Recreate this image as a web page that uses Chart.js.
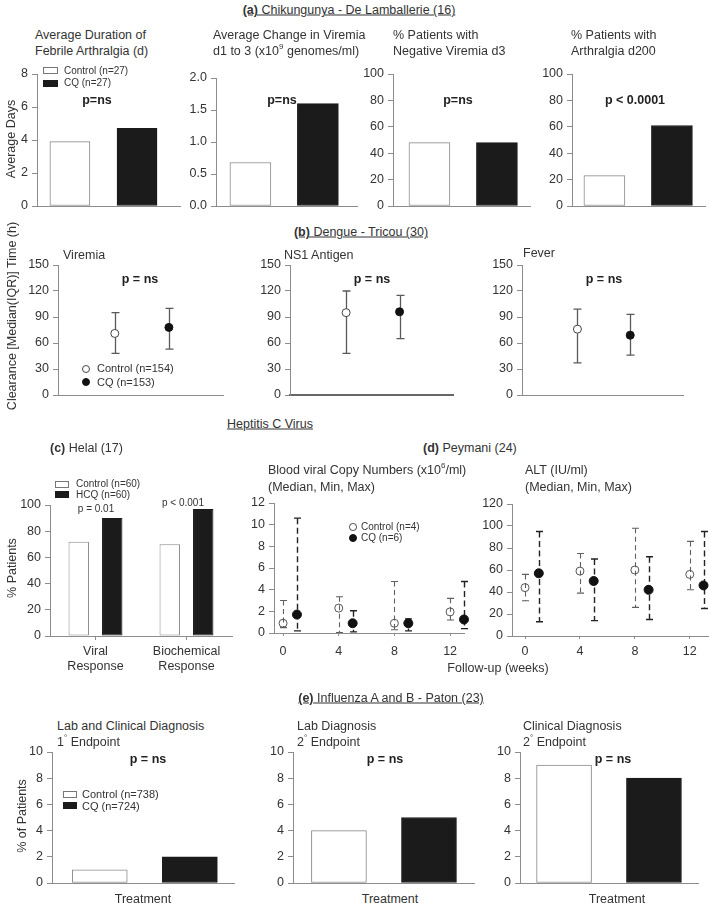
<!DOCTYPE html>
<html><head><meta charset="utf-8">
<script src="https://cdn.jsdelivr.net/npm/chart.js@4.4.1/dist/chart.umd.min.js"></script>
<style>
html,body{margin:0;padding:0;background:#fff;}
body{width:709px;height:911px;position:relative;overflow:hidden;font-family:"Liberation Sans",Arial,sans-serif;color:#333;}
canvas{position:absolute;}
.t{position:absolute;white-space:nowrap;font-size:12.5px;line-height:15px;}
.u{text-decoration:underline;}
.b{font-weight:bold;color:#222;}
.s10{font-size:10px;line-height:12px;}
.s11{font-size:11px;line-height:13px;}
sup{font-size:8px;vertical-align:6px;line-height:0;}
.box{position:absolute;box-sizing:border-box;}
.dot{position:absolute;box-sizing:border-box;border-radius:50%;}
</style></head><body>
<script>
// ---------------- DATA ----------------
// (a) Chikungunya - De Lamballerie
const chikGroups = ['Control (n=27)', 'CQ (n=27)'];
const chikFebrileDays = [3.9, 4.7];
const chikViremiaChange = [0.68, 1.6];
const chikNegViremiaPct = [48, 48];
const chikArthralgiaPct = [23, 61];
const chikDaysTicks = [0, 2, 4, 6, 8];
const chikChangeTicks = [0, 0.5, 1, 1.5, 2];
const pctTicks = [0, 20, 40, 60, 80, 100];

// (b) Dengue - Tricou : clearance time (h), median with IQR
const dengueGroups = ['Control (n=154)', 'CQ (n=153)'];
const viremiaMedian = [71, 78];
const viremiaQ1 = [48, 53];
const viremiaQ3 = [95, 100];
const ns1Median = [95, 96];
const ns1Q1 = [48, 65];
const ns1Q3 = [120, 115];
const feverMedian = [76, 69];
const feverQ1 = [37, 46];
const feverQ3 = [99, 93];
const clearanceTicks = [0, 30, 60, 90, 120, 150];

// (c) Helal - HCV
const helalCategories = [['Viral', 'Response'], ['Biochemical', 'Response']];
const helalControlPct = [72, 70];
const helalHCQPct = [90, 97];

// (d) Peymani - HCV, median/min/max at follow-up weeks
const followWeeks = [0, 4, 8, 12];
const copyCtrlMedian = [0.9, 2.3, 0.9, 1.95];
const copyCtrlMin = [0.5, 0.05, 0.3, 1.2];
const copyCtrlMax = [3.0, 3.35, 4.75, 3.2];
const copyCQMedian = [1.7, 0.9, 0.9, 1.25];
const copyCQMin = [0.2, 0.1, 0.2, 0.4];
const copyCQMax = [10.6, 2.05, 1.3, 4.75];
const altCtrlMedian = [44, 59, 60, 56];
const altCtrlMin = [32, 39, 26, 42];
const altCtrlMax = [56, 75, 98, 86];
const altCQMedian = [57, 50, 42, 46];
const altCQMin = [13, 14, 15, 25];
const altCQMax = [95, 70, 72, 95];
const copyTicks = [0, 2, 4, 6, 8, 10, 12];
const altTicks = [0, 20, 40, 60, 80, 100, 120];

// (e) Influenza - Paton (% of patients)
const fluGroups = ['Control (n=738)', 'CQ (n=724)'];
const fluLabClinical = [1, 2];
const fluLab = [4, 5];
const fluClinical = [9, 8];
const fluTicks = [0, 2, 4, 6, 8, 10];

// ---------------- STYLE / HELPERS ----------------
const WHITE = '#ffffff', BLACK = '#1b1b1b', EDGE = '#8a8a8a', AX = '#8c8c8c';
const TICKFONT = 12.5;
Chart.defaults.font.family = '"Liberation Sans", Arial, sans-serif';
Chart.defaults.font.size = 12;
Chart.defaults.color = '#333';
Chart.defaults.animation = false;
Chart.defaults.plugins.legend.display = false;
Chart.defaults.plugins.tooltip.enabled = false;

function mkCanvas(area, pad) {
  const c = document.createElement('canvas');
  const w = area.r - area.l + pad.l + pad.r, h = area.b - area.t + pad.t + pad.b;
  c.width = w; c.height = h;
  c.style.width = w + 'px'; c.style.height = h + 'px';
  c.style.left = (area.l - pad.l) + 'px'; c.style.top = (area.t - pad.t) + 'px';
  document.body.appendChild(c);
  return c;
}
function fitter(pad, horiz) {
  return s => {
    if (horiz) { s.height = pad.b; s.paddingLeft = 0; s.paddingRight = 0; }
    else { s.width = pad.l; s.paddingTop = 0; s.paddingBottom = 0; }
  };
}
function yScale(pad, ticks, fmt) {
  return {
    type: 'linear', min: ticks[0], max: ticks[ticks.length - 1],
    afterBuildTicks: s => { s.ticks = ticks.map(v => ({ value: v })); },
    ticks: { padding: 4, color: '#333', font: { size: TICKFONT }, callback: fmt || (v => String(v)) },
    grid: { display: true, drawOnChartArea: false, drawTicks: true, tickLength: 5, tickColor: AX, tickWidth: 1 },
    border: { display: true, color: AX, width: 1 },
    afterFit: fitter(pad, false)
  };
}
function xHidden(pad, xr, border) {
  return {
    type: 'linear', min: xr[0], max: xr[1], offset: false,
    ticks: { display: false },
    grid: { display: true, drawOnChartArea: false, drawTicks: false },
    border: Object.assign({ display: true, color: AX, width: 1 }, border || {}),
    afterFit: fitter(pad, true)
  };
}
function baseOpts(pad) {
  return { responsive: false, devicePixelRatio: 1, animation: false,
    layout: { padding: { top: pad.t, right: pad.r, left: 0, bottom: 0 } } };
}

function barPair(area, values, xr, thick, yTicks, fmt) {
  const pad = { l: 42, t: 8, r: 8, b: 4 };
  const c = mkCanvas(area, pad);
  const o = baseOpts(pad);
  o.scales = { x: xHidden(pad, xr), y: yScale(pad, yTicks, fmt) };
  new Chart(c, {
    type: 'bar',
    data: { datasets: [{
      data: values.map((v, i) => ({ x: i, y: v })),
      backgroundColor: [WHITE, BLACK], borderColor: [EDGE, BLACK],
      borderWidth: 1, borderSkipped: false, barThickness: thick
    }] },
    options: o
  });
}

const errorBars = {
  id: 'errorBars',
  beforeDatasetsDraw(chart) {
    const ctx = chart.ctx, xs = chart.scales.x, ys = chart.scales.y;
    chart.data.datasets.forEach(ds => {
      if (!ds.errLo) return;
      ctx.save();
      ctx.strokeStyle = ds.errColor; ctx.lineWidth = ds.errWidth || 1;
      ds.data.forEach((p, i) => {
        const px = Math.round(xs.getPixelForValue(p.x)) + 0.5;
        const y1 = ys.getPixelForValue(ds.errLo[i]), y2 = ys.getPixelForValue(ds.errHi[i]);
        ctx.setLineDash(ds.errDash || []);
        ctx.beginPath(); ctx.moveTo(px, y2); ctx.lineTo(px, y1); ctx.stroke();
        ctx.setLineDash([]);
        const cap = ds.errCap;
        ctx.beginPath();
        ctx.moveTo(px - cap, y2); ctx.lineTo(px + cap, y2);
        ctx.moveTo(px - cap, y1); ctx.lineTo(px + cap, y1);
        ctx.stroke();
      });
      ctx.restore();
    });
  }
};

function dengueChart(area, med, lo, hi, border) {
  const pad = { l: 42, t: 8, r: 8, b: 4 };
  const c = mkCanvas(area, pad);
  const o = baseOpts(pad);
  o.scales = { x: xHidden(pad, [-1.05, 2.0], border), y: yScale(pad, clearanceTicks) };
  const ds = dengueGroups.map((g, i) => ({
    label: g,
    data: [{ x: i, y: med[i] }],
    errLo: [lo[i]], errHi: [hi[i]], errColor: '#5a5a5a', errWidth: 1.3, errCap: 4,
    pointRadius: 4, pointBorderWidth: 1,
    pointBackgroundColor: i === 0 ? '#fff' : '#111',
    pointBorderColor: i === 0 ? '#444' : '#111',
    showLine: false, clip: false
  }));
  new Chart(c, { type: 'scatter', data: { datasets: ds }, options: o, plugins: [errorBars] });
}

function peymaniChart(area, xr, yTicks, ctrl, cq, tickPad) {
  const pad = { l: 42, t: 8, r: 8, b: 26 };
  const c = mkCanvas(area, pad);
  const o = baseOpts(pad);
  o.scales = {
    x: {
      type: 'linear', min: xr[0], max: xr[1], offset: false,
      afterBuildTicks: s => { s.ticks = followWeeks.map(v => ({ value: v })); },
      ticks: { padding: tickPad, color: '#333', font: { size: TICKFONT } },
      grid: { display: true, drawOnChartArea: false, drawTicks: true, tickLength: 3, tickColor: AX },
      border: { display: true, color: AX, width: 1 },
      afterFit: fitter(pad, true)
    },
    y: yScale(pad, yTicks)
  };
  const dodge = 1; // CQ symbols drawn one week to the right of control
  const ds = [
    { data: followWeeks.map((w, i) => ({ x: w, y: ctrl[0][i] })), errLo: ctrl[1], errHi: ctrl[2],
      errColor: '#606060', errWidth: 1.1, errDash: [5, 3.5], errCap: 3.5,
      pointRadius: 4, pointBorderWidth: 1, pointBackgroundColor: 'rgba(255,255,255,0)', pointBorderColor: '#555',
      showLine: false, clip: false },
    { data: followWeeks.map((w, i) => ({ x: w + dodge, y: cq[0][i] })), errLo: cq[1], errHi: cq[2],
      errColor: '#222', errWidth: 1.4, errDash: [6, 3.5], errCap: 3.5,
      pointRadius: 4.5, pointBorderWidth: 1, pointBackgroundColor: '#111', pointBorderColor: '#111',
      showLine: false, clip: false }
  ];
  new Chart(c, { type: 'scatter', data: { datasets: ds }, options: o, plugins: [errorBars] });
}

// ---------------- CHARTS ----------------
// (a)
barPair({ l: 37, t: 74, r: 180, b: 206 }, chikFebrileDays, [-0.49, 1.64], 40, chikDaysTicks);
barPair({ l: 216, t: 78, r: 357, b: 206 }, chikViremiaChange, [-0.51, 1.58], 41, chikChangeTicks, v => Number(v).toFixed(1));
barPair({ l: 393, t: 74, r: 530, b: 206 }, chikNegViremiaPct, [-0.54, 1.49], 41, pctTicks);
barPair({ l: 572, t: 74, r: 705, b: 206 }, chikArthralgiaPct, [-0.48, 1.49], 41, pctTicks);

// (b)
dengueChart({ l: 58, t: 265, r: 223, b: 396 }, viremiaMedian, viremiaQ1, viremiaQ3);
dengueChart({ l: 290, t: 265, r: 453, b: 396 }, ns1Median, ns1Q1, ns1Q3, { color: '#666', width: 2 });
dengueChart({ l: 522, t: 265, r: 683, b: 396 }, feverMedian, feverQ1, feverQ3);

// (c)
(function () {
  const area = { l: 50, t: 505, r: 232, b: 636 };
  const pad = { l: 44, t: 8, r: 8, b: 44 };
  const c = mkCanvas(area, pad);
  const o = baseOpts(pad);
  o.scales = {
    x: {
      type: 'category', offset: true,
      ticks: { padding: 4, color: '#333', font: { size: 12.5, lineHeight: 1.2 } },
      grid: { display: true, offset: false, drawOnChartArea: false, drawTicks: true, tickLength: 4, tickColor: AX },
      border: { display: true, color: AX, width: 1 },
      afterFit: fitter(pad, true)
    },
    y: yScale(pad, pctTicks)
  };
  new Chart(c, {
    type: 'bar',
    data: { labels: helalCategories, datasets: [
      { label: 'Control (n=60)', data: helalControlPct, backgroundColor: WHITE, borderColor: EDGE, borderWidth: 1, borderSkipped: false, categoryPercentage: 0.736, barPercentage: 0.61 },
      { label: 'HCQ (n=60)', data: helalHCQPct, backgroundColor: BLACK, borderColor: BLACK, borderWidth: 1, borderSkipped: false, categoryPercentage: 0.736, barPercentage: 0.61 }
    ] },
    options: o
  });
})();

// (d)
peymaniChart({ l: 274, t: 503, r: 464, b: 633 }, [-0.65, 13.0], copyTicks,
  [copyCtrlMedian, copyCtrlMin, copyCtrlMax], [copyCQMedian, copyCQMin, copyCQMax], 8);
peymaniChart({ l: 512, t: 504, r: 709, b: 636 }, [-0.95, 13.4], altTicks,
  [altCtrlMedian, altCtrlMin, altCtrlMax], [altCQMedian, altCQMin, altCQMax], 5);

// (e)
barPair({ l: 52, t: 752, r: 234, b: 883 }, fluLabClinical, [-0.53, 1.49], 55, fluTicks);
barPair({ l: 293, t: 752, r: 474, b: 883 }, fluLab, [-0.51, 1.5], 55, fluTicks);
barPair({ l: 520, t: 752, r: 698, b: 883 }, fluClinical, [-0.49, 1.49], 55, fluTicks);

// ---------------- TEXT ----------------
function T(x, cy, html, cls, align) {
  const d = document.createElement('div');
  d.className = 't ' + (cls || '');
  d.innerHTML = html;
  d.style.left = x + 'px'; d.style.top = cy + 'px';
  d.style.transform = 'translate(' + (align === 'c' ? '-50%' : '0') + ',-50%)';
  document.body.appendChild(d);
}
function R(cx, cy, html, cls) {
  const d = document.createElement('div');
  d.className = 't ' + (cls || '');
  d.innerHTML = html;
  d.style.left = cx + 'px'; d.style.top = cy + 'px';
  d.style.transform = 'translate(-50%,-50%) rotate(-90deg)';
  document.body.appendChild(d);
}
function box(x, y, w, h, fill, stroke) {
  const d = document.createElement('div');
  d.className = 'box';
  Object.assign(d.style, { left: x + 'px', top: y + 'px', width: w + 'px', height: h + 'px', background: fill, border: '1px solid ' + stroke });
  document.body.appendChild(d);
}
function dot(cx, cy, r, fill, stroke) {
  const d = document.createElement('div');
  d.className = 'dot';
  Object.assign(d.style, { left: (cx - r) + 'px', top: (cy - r) + 'px', width: 2 * r + 'px', height: 2 * r + 'px', background: fill, border: '1px solid ' + stroke });
  document.body.appendChild(d);
}

// (a)
T(349, 10, '<b>(a)</b> Chikungunya - De Lamballerie (16)', 'u', 'c');
T(35, 35, 'Average Duration of'); T(35, 51, 'Febrile Arthralgia (d)');
T(213, 35, 'Average Change in Viremia'); T(213, 51, 'd1 to 3 (x10<sup>9</sup> genomes/ml)');
T(393, 35, '% Patients with'); T(393, 51, 'Negative Viremia d3');
T(571, 35, '% Patients with'); T(571, 51, 'Arthralgia d200');
R(11, 139, 'Average Days');
box(43, 67, 15, 7, WHITE, '#777'); T(64, 71, chikGroups[0], 's10');
box(43, 80, 15, 7, BLACK, BLACK); T(64, 83, chikGroups[1], 's10');
T(97, 100, 'p=ns', 'b', 'c'); T(282, 100, 'p=ns', 'b', 'c');
T(458, 100, 'p=ns', 'b', 'c'); T(635, 100, 'p &lt; 0.0001', 'b', 'c');

// (b)
T(361, 232, '<b>(b)</b> Dengue - Tricou (30)', 'u', 'c');
T(63, 255, 'Viremia'); T(284, 255, 'NS1 Antigen'); T(523, 253, 'Fever');
T(140, 279, 'p = ns', 'b', 'c'); T(372, 279, 'p = ns', 'b', 'c'); T(604, 279, 'p = ns', 'b', 'c');
R(12, 316, 'Clearance [Median(IQR)] Time (h)');
dot(86, 369, 4, '#fff', '#444'); T(97, 368, dengueGroups[0], 's11');
dot(86, 382, 4, '#111', '#111'); T(97, 382, dengueGroups[1], 's11');

// HCV
T(270, 424, 'Heptitis C Virus', 'u', 'c');
T(50, 448, '<b>(c)</b> Helal (17)', '', 'l');
box(55, 481, 14, 7, WHITE, '#777'); T(76, 484, 'Control (n=60)', 's10');
box(55, 491, 14, 7, BLACK, BLACK); T(76, 495, 'HCQ (n=60)', 's10');
T(96, 509, 'p = 0.01', 's10', 'c'); T(183, 503, 'p &lt; 0.001', 's10', 'c');
R(12, 568, '% Patients');

T(423, 448, '<b>(d)</b> Peymani (24)', '', 'l');
T(268, 470, 'Blood viral Copy Numbers (x10<sup>6</sup>/ml)'); T(268, 487, '(Median, Min, Max)');
T(525, 470, 'ALT (IU/ml)'); T(525, 487, '(Median, Min, Max)');
dot(353, 527, 3.8, '#fff', '#444'); T(361, 527, 'Control (n=4)', 's10');
dot(353, 538, 4, '#111', '#111'); T(361, 538, 'CQ (n=6)', 's10');
T(498, 668, 'Follow-up (weeks)', '', 'c');

// (e)
T(391, 698, '<b>(e)</b> Influenza A and B - Paton (23)', 'u', 'c');
T(57, 726, 'Lab and Clinical Diagnosis'); T(57, 742, '1<sup>°</sup> Endpoint');
T(297, 726, 'Lab Diagnosis'); T(297, 742, '2<sup>°</sup> Endpoint');
T(523, 726, 'Clinical Diagnosis'); T(523, 742, '2<sup>°</sup> Endpoint');
T(148, 759, 'p = ns', 'b', 'c'); T(385, 759, 'p = ns', 'b', 'c'); T(613, 759, 'p = ns', 'b', 'c');
box(63, 791, 14, 7, WHITE, '#777'); T(82, 794, fluGroups[0], 's11');
box(63, 802, 14, 7, BLACK, BLACK); T(82, 806, fluGroups[1], 's11');
R(22, 816, '% of Patients');
T(143, 899, 'Treatment', '', 'c'); T(390, 899, 'Treatment', '', 'c'); T(617, 899, 'Treatment', '', 'c');
</script>
</body></html>
